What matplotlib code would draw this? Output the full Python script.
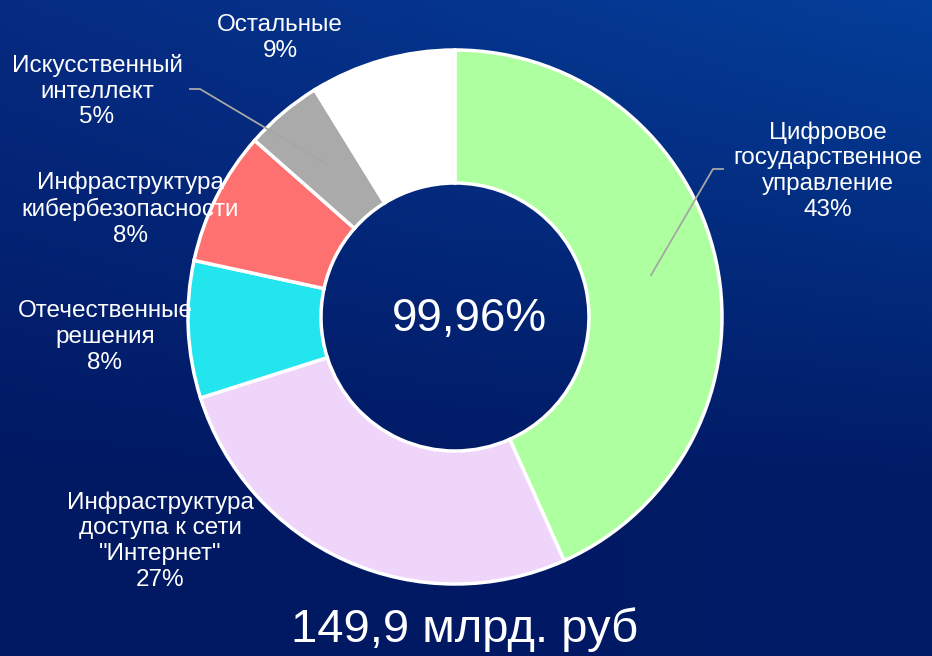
import numpy as np
import matplotlib
matplotlib.use("Agg")
import matplotlib.pyplot as plt
from matplotlib.colors import to_rgb

plt.rcParams['font.family'] = ['Liberation Sans', 'DejaVu Sans']

# ---- data ----
categories = [
    "Цифровое\nгосударственное\nуправление",
    "Инфраструктура\nдоступа к сети\n\"Интернет\"",
    "Отечественные\nрешения",
    "Инфраструктура\nкибербезопасности",
    "Искусственный\nинтеллект",
    "Остальные",
]
shares = [43.3, 26.8, 8.3, 8.1, 4.7, 8.8]
pct_labels = ["43%", "27%", "8%", "8%", "5%", "9%"]
colors = ["#AEFFA0", "#EFD5FA", "#22E5EE", "#FF7070", "#AAAAAA", "#FFFFFF"]
center_text = "99,96%"
total_text = "149,9 млрд. руб"

# ---- layout (pixels, y from top) ----
W, H = 932, 656
cx, cy = 455, 317
R_out, R_in = 267, 134
label_pos = [(828, 171), (160, 541), (105, 337), (130, 209), (97, 91), (280, 38)]
leader = {0: "right", 4: "left"}

fig = plt.figure(figsize=(W / 100, H / 100), dpi=100)
ax = fig.add_axes([0, 0, 1, 1])
ax.set_xlim(0, W)
ax.set_ylim(0, H)
ax.axis("off")

# background gradient (bilinear between corners)
tl, tr = np.array(to_rgb("#062B82")), np.array(to_rgb("#043F9A"))
bl, br = np.array(to_rgb("#011862")), np.array(to_rgb("#011B66"))
yy, xx = np.mgrid[0:1:200j, 0:1:200j]
yy2 = np.clip(yy * 1.35, 0, 1)[..., None]
xx = xx[..., None]
top = tl * (1 - xx) + tr * xx
bot = bl * (1 - xx) + br * xx
img = top * (1 - yy2) + bot * yy2
ax.imshow(img, extent=(0, W, 0, H), origin="upper", aspect="auto", zorder=0)

wedges, _ = ax.pie(
    shares, colors=colors, startangle=90, counterclock=False,
    center=(cx, H - cy), radius=R_out,
    wedgeprops=dict(width=R_out - R_in, edgecolor="white", linewidth=2.5),
    frame=True,
)
for w in wedges:
    w.set_zorder(2)
ax.set_xlim(0, W)
ax.set_ylim(0, H)
ax.set_aspect("equal")
ax.axis("off")

for i, (cat, pct) in enumerate(zip(categories, pct_labels)):
    x, y = label_pos[i]
    ax.text(x, H - y, cat + "\n" + pct, ha="center", va="center",
            multialignment="center", color="white", fontsize=17.5,
            linespacing=1.22, zorder=5)

# leader lines to ring middle at wedge mid-angle
r_mid = (R_out + R_in) / 2
for i, side in leader.items():
    w = wedges[i]
    ang = np.deg2rad((w.theta1 + w.theta2) / 2)
    ex = cx + r_mid * np.cos(ang)
    ey = (H - cy) + r_mid * np.sin(ang)
    if side == "right":
        pts = [(ex, ey), (713, H - 169), (723, H - 169)]
    else:
        pts = [(ex, ey), (200, H - 89), (190, H - 89)]
    xs, ys = zip(*pts)
    ax.plot(xs, ys, color="#A6A6A6", lw=1.3, zorder=4)

ax.text(cx + 14, H - 319, center_text, ha="center", va="center",
        color="white", fontsize=33, zorder=5)
ax.text(465, H - 630, total_text, ha="center", va="center",
        color="white", fontsize=34, zorder=5)

fig.savefig("out.png", dpi=100, facecolor="#011862")
